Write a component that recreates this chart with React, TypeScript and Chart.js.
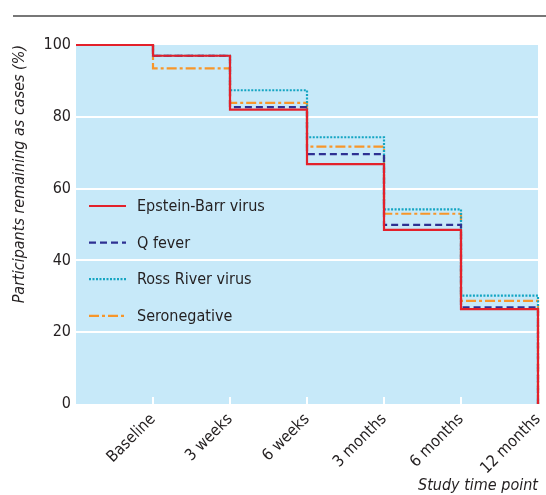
import React, { useEffect, useRef } from "react";
import { Chart, registerables } from "chart.js";

Chart.register(...registerables);

// Time points (the first, unlabeled one is the start of the plot at 100%)
const tickLabels = ["", "Baseline", "3 weeks", "6 weeks", "3 months", "6 months", "12 months"];
const xPositions = [-1, 0, 1, 2, 3, 4, 5];

// Participants remaining as cases (%)
const epsteinBarr = [100, 97, 82, 66.8, 48.5, 26.4, 0];
const qFever = [100, 97, 82.7, 69.6, 49.9, 26.9, 0];
const rossRiver = [100, 97, 87.4, 74.3, 54.2, 30.2, 0];
const seronegative = [100, 93.5, 83.9, 71.7, 53.0, 28.7, 0];

const seriesNames = ["Epstein-Barr virus", "Q fever", "Ross River virus", "Seronegative"];
const yTicks = [0, 20, 40, 60, 80, 100];

const FONT = "'Liberation Sans Narrow', 'DejaVu Sans Condensed', 'Liberation Sans', sans-serif";
const BG = "#c7e9f9";
const TEXT = "#231f20";

const colors = ["#e3212b", "#2e3192", "#14a5c2", "#f7962a"];
const dashes: number[][] = [[], [7, 4], [2, 1.5], [10, 3, 3, 3]];

export default function App() {
  const canvasRef = useRef<HTMLCanvasElement | null>(null);

  useEffect(() => {
    document.body.style.margin = "0";
    const canvas = canvasRef.current;
    if (!canvas) return;

    const toPoints = (vals: number[]) => vals.map((v, i) => ({ x: xPositions[i], y: v }));
    const seriesValues = [epsteinBarr, qFever, rossRiver, seronegative];

    const bgPlugin = {
      id: "bgPlugin",
      beforeDraw(chart: any) {
        const { ctx, chartArea } = chart;
        ctx.save();
        ctx.fillStyle = BG;
        ctx.fillRect(chartArea.left, chartArea.top, chartArea.right - chartArea.left, chartArea.bottom - chartArea.top);
        // top rule
        ctx.strokeStyle = "#4a4a4a";
        ctx.lineWidth = 1.6;
        ctx.beginPath();
        ctx.moveTo(13, 16);
        ctx.lineTo(chart.width, 16);
        ctx.stroke();
        ctx.restore();
      },
      beforeDatasetsDraw(chart: any) {
        const { ctx, chartArea, scales } = chart;
        ctx.save();
        ctx.strokeStyle = "#ffffff";
        ctx.lineWidth = 2;
        for (let i = 1; i < xPositions.length; i++) {
          const x = scales.x.getPixelForValue(xPositions[i]);
          ctx.beginPath();
          ctx.moveTo(x, chartArea.bottom);
          ctx.lineTo(x, chartArea.bottom - 7);
          ctx.stroke();
        }
        ctx.restore();
      },
      afterDatasetsDraw(chart: any) {
        const { ctx, chartArea } = chart;
        ctx.save();
        const x0 = chartArea.left + 13;
        const x1 = chartArea.left + 50;
        const tx = chartArea.left + 61;
        const y0 = chartArea.top + 161;
        const step = 36.6;
        ctx.font = `16px ${FONT}`;
        ctx.textBaseline = "middle";
        ctx.fillStyle = TEXT;
        seriesNames.forEach((name, i) => {
          const y = y0 + i * step;
          ctx.strokeStyle = colors[i];
          ctx.lineWidth = 2.2;
          ctx.setLineDash(dashes[i]);
          ctx.beginPath();
          ctx.moveTo(x0, y);
          ctx.lineTo(x1, y);
          ctx.stroke();
          ctx.setLineDash([]);
          ctx.fillText(name, tx, y + 1);
        });
        ctx.restore();
      },
    };

    const chart = new Chart(canvas, {
      type: "line",
      data: {
        datasets: seriesNames.map((name, i) => ({
          label: name,
          data: toPoints(seriesValues[i]),
          borderColor: colors[i],
          backgroundColor: colors[i],
          borderWidth: 2.2,
          borderDash: dashes[i],
          pointRadius: 0,
          stepped: "before" as const,
          fill: false,
          tension: 0,
          clip: 6,
          borderJoinStyle: "miter" as const,
        })),
      },
      options: {
        responsive: false,
        animation: false,
        events: [],
        layout: { padding: { top: 45, right: 8, left: 0, bottom: 0 } },
        plugins: {
          legend: { display: false },
          tooltip: { enabled: false },
        },
        scales: {
          x: {
            type: "linear",
            min: xPositions[0],
            max: xPositions[xPositions.length - 1],
            afterBuildTicks(scale: any) {
              scale.ticks = xPositions.map((v) => ({ value: v }));
            },
            afterFit(scale: any) {
              scale.height = 91;
              scale.paddingRight = 0;
              scale.paddingLeft = 0;
            },
            grid: { display: false, drawTicks: false },
            border: { display: false },
            ticks: {
              autoSkip: false,
              maxRotation: 45,
              minRotation: 45,
              padding: 6,
              color: TEXT,
              font: { family: FONT, size: 16 },
              callback(value: any) {
                const idx = xPositions.indexOf(Number(value));
                return idx >= 0 ? tickLabels[idx] : "";
              },
            },
            title: {
              display: true,
              text: "Study time point",
              align: "end",
              color: TEXT,
              font: { family: FONT, size: 16, style: "italic" },
              padding: { top: 0, bottom: 0 },
            },
          },
          y: {
            type: "linear",
            min: 0,
            max: 100,
            afterBuildTicks(scale: any) {
              scale.ticks = yTicks.map((v) => ({ value: v }));
            },
            afterFit(scale: any) {
              scale.width = 76;
            },
            grid: {
              drawTicks: false,
              lineWidth: 2,
              color: (c: any) => (c.tick && (c.tick.value === 0 || c.tick.value === 100) ? "rgba(0,0,0,0)" : "#ffffff"),
            },
            border: { display: false },
            ticks: {
              padding: 5,
              color: TEXT,
              font: { family: FONT, size: 16 },
            },
            title: {
              display: true,
              text: "Participants remaining as cases (%)",
              align: "end",
              color: TEXT,
              font: { family: FONT, size: 16, style: "italic" },
              padding: { top: 10, bottom: 0 },
            },
          },
        },
      },
      plugins: [bgPlugin],
    });

    return () => chart.destroy();
  }, []);

  return (
    <div style={{ width: 546, height: 495 }}>
      <canvas ref={canvasRef} width={546} height={495} style={{ display: "block" }} />
    </div>
  );
}
